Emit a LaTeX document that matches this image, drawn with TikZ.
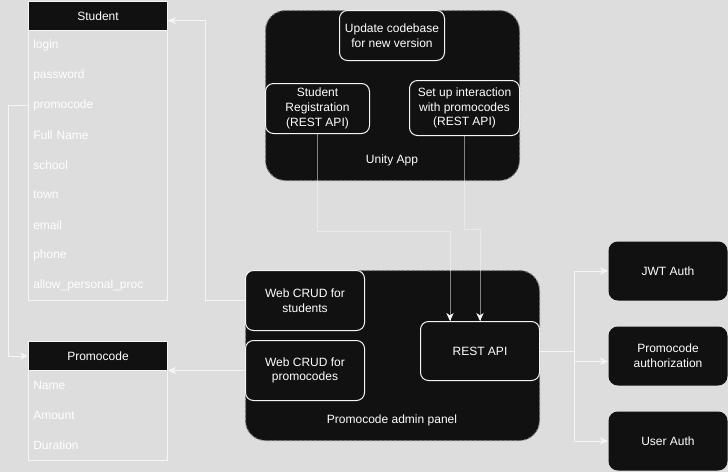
\documentclass[tikz,border=0pt]{standalone}
\usepackage{fontspec}
\setmainfont{Liberation Sans}
\usetikzlibrary{arrows.meta,calc}
\definecolor{bg}{HTML}{DDDDDD}
\definecolor{dk}{HTML}{111111}
\definecolor{wt}{HTML}{F5F5F5}
\definecolor{dashc}{HTML}{777777}
\newcommand{\rbox}[7]{\node[#6, anchor=north west, minimum width={(#4-#2)*0.75pt}, minimum height={(#5-#3)*0.75pt}] (#1) at (#2,#3) {#7};}
\begin{document}
\begin{tikzpicture}[x=0.75pt,y=-0.75pt, font=\fontsize{9pt}{11pt}\selectfont,
 box/.style={draw=wt, fill=dk, rounded corners=6pt, line width=0.75pt, text=white, align=center, inner sep=0pt},
 sbox/.style={box, draw=none, rounded corners=7pt},
 cont/.style={draw=dashc, dash pattern=on 2.25pt off 1.5pt, fill=dk, rounded corners=15pt, line width=0.75pt, inner sep=0pt},
 thead/.style={draw=wt, fill=dk, text=white, inner sep=0pt, line width=0.75pt},
 tbody/.style={draw=wt, inner sep=0pt, line width=0.75pt},
 trow/.style={text=white, inner xsep=3.75pt, inner ysep=0pt, anchor=west, text width=96.75pt, align=left, minimum height=22.5pt},
 lbl/.style={text=white, inner sep=0pt},
 conn/.style={draw=wt, line width=0.75pt},
 arr/.style={conn, -{Stealth[length=6pt,width=5.5pt,inset=1.8pt]}},
 semi/.style={conn, draw opacity=0.5}
]
\fill[bg] (0,0) rectangle (728,472);
\useasboundingbox (0,0) rectangle (728,472);

% Student table
\rbox{sbody}{28}{30}{167}{300}{tbody}{}
\rbox{shead}{28}{1}{167}{30}{thead}{Student}
\node[trow] (s1) at (28,45) {login};
\node[trow] (s2) at (28,75) {password};
\node[trow] (s3) at (28,105) {promocode};
\node[trow] (s4) at (28,135) {Full Name};
\node[trow] (s5) at (28,165) {school};
\node[trow] (s6) at (28,195) {town};
\node[trow] (s7) at (28,225) {email};
\node[trow] (s8) at (28,255) {phone};
\node[trow] (s9) at (28,285) {allow\_personal\_proc};

% Promocode table
\rbox{pbody}{28}{370}{167}{460}{tbody}{}
\rbox{phead}{28}{341}{167}{370}{thead}{Promocode}
\node[trow] (p1) at (28,385) {Name};
\node[trow] (p2) at (28,415) {Amount};
\node[trow] (p3) at (28,445) {Duration};

% Unity App
\rbox{unity}{265}{10}{519}{180}{cont}{}
\node[lbl] (unitylbl) at (392,160) {Unity App};
\rbox{upd}{339}{10}{444}{60}{box}{Update codebase\\for new version}
\rbox{sreg}{265}{83}{369}{133}{box}{Student\\Registration\\(REST API)}
\rbox{setup}{409}{80}{519}{135}{box}{Set up interaction\\with promocodes\\(REST API)}

% Admin panel
\rbox{admin}{245}{270}{539}{440}{cont}{}
\node[lbl] (adminlbl) at (392,420) {Promocode admin panel};
\rbox{crud1}{245}{270}{364}{330}{box}{Web CRUD for\\students}
\rbox{crud2}{245}{340}{364}{400}{box}{Web CRUD for\\promocodes}
\rbox{rest}{420}{321}{539}{380}{box}{REST API}

% Auth boxes
\rbox{jwt}{608}{241}{727}{300}{sbox}{JWT Auth}
\rbox{pauth}{608}{326}{727}{385}{sbox}{Promocode\\authorization}
\rbox{uauth}{608}{411}{727}{470}{sbox}{User Auth}

% connectors
\draw[arr] (s3.west) -- ++(-20,0) |- (phead.west);
\draw[arr] (crud1.west) -- ++(-40,0) |- ([yshift=-3.4pt]shead.east);
\draw[arr] (crud2.west) -- (crud2.west -| phead.east);
\draw[arr] (rest.east) -- ++(34,0) |- (jwt.west);
\draw[arr] (rest.east) -- ++(34,0) |- ([yshift=-4pt]pauth.west);
\draw[arr] (rest.east) -- ++(34,0) |- (uauth.west);

\draw[semi] (sreg.south) -- ++(0,97) -| ([xshift=-22.5pt]rest.north);
\draw[arr] ([xshift=-22.5pt,yshift=1pt]rest.north) -- ([xshift=-22.5pt]rest.north);
\draw[semi] (setup.south) -- ++(0,93) -| (rest.north);
\draw[arr] ([yshift=1pt]rest.north) -- (rest.north);
\end{tikzpicture}
\end{document}
